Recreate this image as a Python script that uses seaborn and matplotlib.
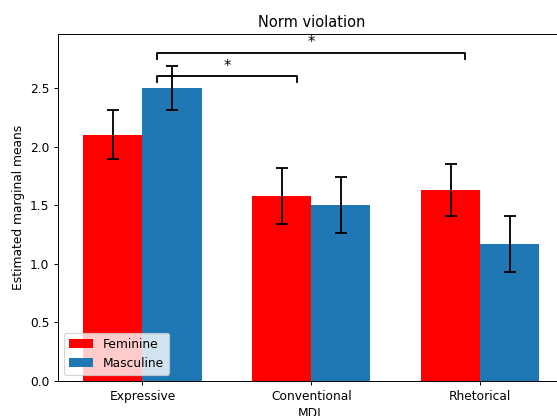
import matplotlib
matplotlib.use("Agg")
import matplotlib.pyplot as plt
import seaborn as sns
import pandas as pd
import numpy as np

# Estimated marginal means by MDL type and gender, with error half-widths
categories = ["Expressive", "Conventional", "Rhetorical"]
genders = ["Feminine", "Masculine"]
feminine_means = [2.10, 1.58, 1.63]
masculine_means = [2.50, 1.50, 1.17]
feminine_err = [0.21, 0.24, 0.22]
masculine_err = [0.19, 0.24, 0.24]

# Pairwise comparisons marked significant: (from x, to x, bracket height)
sig_pairs = [(0 + 0.0875, 1 - 0.0875, 2.60), (0 + 0.0875, 2 - 0.0875, 2.80)]

df = pd.DataFrame({
    "MDL": categories * 2,
    "Gender": [genders[0]] * 3 + [genders[1]] * 3,
    "EMM": feminine_means + masculine_means,
})

dpi = 88
fig = plt.figure(figsize=(557 / dpi, 416 / dpi), dpi=dpi)
ax = fig.add_axes([0.104, 0.0841, 0.9098, 0.8341])

sns.barplot(data=df, x="MDL", y="EMM", hue="Gender", order=categories,
            hue_order=genders, palette={"Feminine": "red", "Masculine": "#1f77b4"},
            saturation=1, width=0.7, errorbar=None, ax=ax)

w = 0.35
xs = np.arange(len(categories))
ax.errorbar(xs - w / 2, feminine_means, yerr=feminine_err, fmt="none",
            ecolor="black", elinewidth=1.5, capsize=5, capthick=1.5)
ax.errorbar(xs + w / 2, masculine_means, yerr=masculine_err, fmt="none",
            ecolor="black", elinewidth=1.5, capsize=5, capthick=1.5)

for x1, x2, y in sig_pairs:
    h = 0.05
    ax.plot([x1, x1, x2, x2], [y - h, y, y, y - h], color="black", lw=1.5)
    ax.text((x1 + x2) / 2, y + 0.02, "*", ha="center", va="bottom", fontsize=12)

ax.set_xlim(-0.5, 2.5)
ax.set_ylim(0, 2.96)
ax.set_xlabel("MDL")
ax.set_ylabel("Estimated marginal means")
ax.set_title("Norm violation")
sns.move_legend(ax, "lower left", title=None)

fig.savefig("out.png", dpi=dpi)
